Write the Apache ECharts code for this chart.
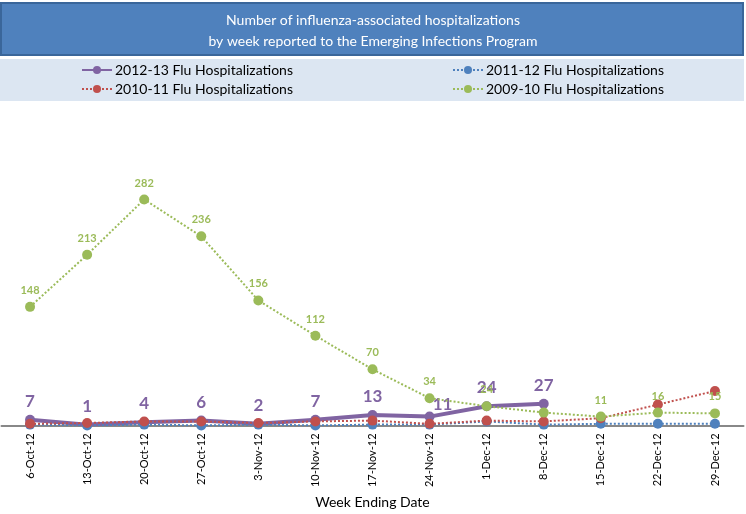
<!DOCTYPE html>
<html>
<head>
<meta charset="utf-8">
<script src="https://cdn.jsdelivr.net/npm/echarts@6/dist/echarts.min.js"></script>
<style>
html,body{margin:0;padding:0;background:#fff;}
#c{width:746px;height:514px;}
</style>
</head>
<body>
<div id="c"></div>
<script>
const categories = ['6-Oct-12','13-Oct-12','20-Oct-12','27-Oct-12','3-Nov-12','10-Nov-12','17-Nov-12','24-Nov-12','1-Dec-12','8-Dec-12','15-Dec-12','22-Dec-12','29-Dec-12'];
const flu1213 = [7, 1, 4, 6, 2, 7, 13, 11, 24, 27];
const flu1112 = [1, 0, 1, 0, 1, 0, 1, 1, 5, 1, 2, 2, 2];
const flu1011 = [2, 3, 5, 5, 3, 5, 6, 2, 6, 5, 9, 26, 43];
const flu0910 = [148, 213, 282, 236, 156, 112, 70, 34, 24, 16, 11, 16, 15];
const seriesNames = ['2012-13 Flu Hospitalizations','2011-12 Flu Hospitalizations','2010-11 Flu Hospitalizations','2009-10 Flu Hospitalizations'];
const titleLines = ['Number of influenza-associated hospitalizations','by week reported to the Emerging Infections Program'];
const xAxisName = 'Week Ending Date';

const FONT = 'Lato, "Open Sans", sans-serif';
const C_PURPLE = '#8064A2', C_BLUE = '#4F81BD', C_RED = '#C0504D', C_GREEN = '#9BBB59';

const chart = echarts.init(document.getElementById('c'), null, {renderer:'canvas'});

function legendAt(name, left, top){
  return {
    data:[name], left:left, top:top, itemWidth:30, itemHeight:10, itemGap:0,
    textStyle:{fontFamily:FONT, fontSize:14, color:'#000', padding:[0,0,0,-2]},
    selectedMode:false
  };
}

const purpleData = flu1213.map((v,i)=> i===7 ? {value:v, label:{offset:[13,6]}} : v);
const greenData = flu0910.map((v,i)=> i===9 ? {value:v, label:{show:false}} : v);

chart.setOption({
  animation:false,
  backgroundColor:'#fff',
  graphic:[
    {type:'rect', shape:{x:1, y:3, width:742, height:52}, style:{fill:'#4F81BD', stroke:'#3A669A', lineWidth:2}, z:-10},
    {type:'rect', shape:{x:0, y:59, width:744, height:42}, style:{fill:'#DCE6F2'}, z:-10}
  ],
  title:{
    text: titleLines.join('\n'), left:'center', top:5,
    textStyle:{fontFamily:FONT, fontSize:14, fontWeight:'normal', color:'#fff', lineHeight:21}
  },
  legend:[
    legendAt(seriesNames[0], 76, 58),
    legendAt(seriesNames[1], 447, 58),
    legendAt(seriesNames[2], 76, 77),
    legendAt(seriesNames[3], 447, 77)
  ],
  grid:{left:1.5, right:2.5, top:145, bottom:85, containLabel:false},
  xAxis:{
    type:'category', data:categories, boundaryGap:true,
    axisLine:{lineStyle:{color:'#888', width:2}},
    axisTick:{show:false},
    axisLabel:{rotate:90, fontFamily:FONT, fontSize:11, color:'#000', margin:8, interval:0},
    name:xAxisName, nameLocation:'middle', nameGap:68,
    nameTextStyle:{fontFamily:FONT, fontSize:14, color:'#000'}
  },
  yAxis:{
    type:'value', min:0, max:350, show:false,
    splitLine:{show:false}
  },
  series:[
    {
      name:seriesNames[0], type:'line', data:purpleData,
      symbol:'circle', symbolSize:10,
      itemStyle:{color:C_PURPLE},
      lineStyle:{color:C_PURPLE, width:4},
      label:{show:true, position:'top', distance:5, fontFamily:FONT, fontSize:17, fontWeight:'bold', color:C_PURPLE},
      z:2
    },
    {
      name:seriesNames[1], type:'line', data:flu1112,
      symbol:'circle', symbolSize:10,
      itemStyle:{color:C_BLUE},
      lineStyle:{color:C_BLUE, width:2, type:[2,2]},
      z:3
    },
    {
      name:seriesNames[2], type:'line', data:flu1011,
      symbol:'circle', symbolSize:10,
      itemStyle:{color:C_RED},
      lineStyle:{color:C_RED, width:2, type:[2,2]},
      z:4
    },
    {
      name:seriesNames[3], type:'line', data:greenData,
      symbol:'circle', symbolSize:10,
      itemStyle:{color:C_GREEN},
      lineStyle:{color:C_GREEN, width:2, type:[2,2]},
      label:{show:true, position:'top', distance:6, fontFamily:FONT, fontSize:11, fontWeight:'bold', color:C_GREEN},
      z:5
    }
  ]
});
</script>
</body>
</html>
